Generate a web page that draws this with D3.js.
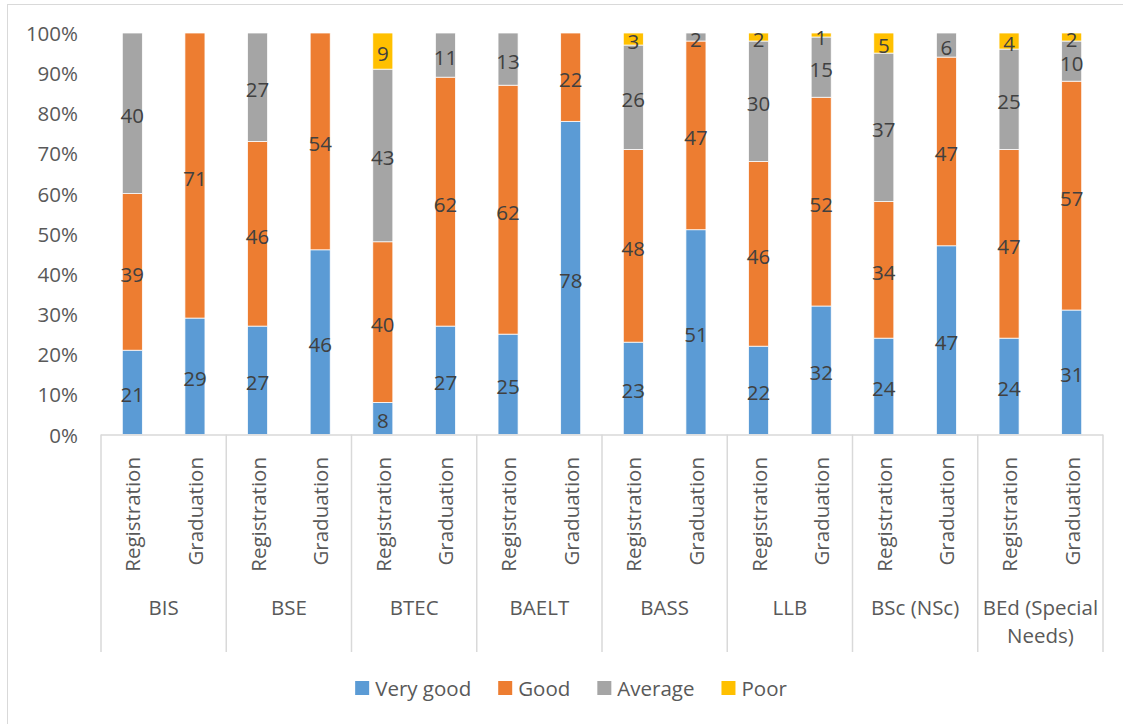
<!DOCTYPE html>
<html>
<head>
<meta charset="utf-8">
<script src="https://cdn.jsdelivr.net/npm/d3@7"></script>
<style>
  html, body { margin: 0; padding: 0; background: #fff; }
  svg { display: block; font-family: "Open Sans", "Noto Sans", sans-serif; }
</style>
</head>
<body>
<svg id="chart" width="1123" height="724"></svg>
<script>
// Programmes and the two survey points per programme
const programmes = ["BIS", "BSE", "BTEC", "BAELT", "BASS", "LLB", "BSc (NSc)", "BEd (Special Needs)"];
const stages = ["Registration", "Graduation"];

// Rating shares (%), ordered programme by programme: Registration then Graduation
const veryGood = [21, 29, 27, 46, 8, 27, 25, 78, 23, 51, 22, 32, 24, 47, 24, 31];
const good     = [39, 71, 46, 54, 40, 62, 62, 22, 48, 47, 46, 52, 34, 47, 47, 57];
const average  = [40, 0, 27, 0, 43, 11, 13, 0, 26, 2, 30, 15, 37, 6, 25, 10];
const poor     = [0, 0, 0, 0, 9, 0, 0, 0, 3, 0, 2, 1, 5, 0, 4, 2];

const seriesNames = ["Very good", "Good", "Average", "Poor"];
const seriesColors = ["#5B9BD5", "#ED7D31", "#A5A5A5", "#FFC000"];
const yTicks = [0, 0.1, 0.2, 0.3, 0.4, 0.5, 0.6, 0.7, 0.8, 0.9, 1.0];

// Build one row per bar
const rows = [];
programmes.forEach((p, i) => {
  stages.forEach((s, j) => {
    const k = i * 2 + j;
    rows.push({ programme: p, stage: s, "Very good": veryGood[k], "Good": good[k], "Average": average[k], "Poor": poor[k] });
  });
});
rows.forEach(r => { r.total = seriesNames.reduce((a, n) => a + r[n], 0); });

const svg = d3.select("#chart");
const plotLeft = 101, plotRight = 1103, plotTop = 33, plotBottom = 434.5;
const textCol = "#595959", labelCol = "#404040", lineCol = "#D9D9D9";
const fs = 20.5;

// Chart frame
svg.append("rect").attr("x", 7.5).attr("y", 4.5).attr("width", 1140).attr("height", 740)
  .attr("fill", "none").attr("stroke", lineCol).attr("stroke-width", 1);

const x0 = d3.scaleBand().domain(programmes).range([plotLeft, plotRight]).padding(0);
const x1 = d3.scaleBand().domain(stages).range([0, x0.bandwidth()]).paddingInner(0.68).paddingOuter(0.34);
const y = d3.scaleLinear().domain([0, 1]).range([plotBottom, plotTop]);

// Y axis labels
svg.append("g").selectAll("text").data(yTicks).join("text")
  .attr("x", 78).attr("y", d => y(d))
  .attr("text-anchor", "end").attr("dominant-baseline", "central")
  .attr("font-size", fs).attr("fill", textCol)
  .text(d => d3.format(".0%")(d));

// Stacked bars (share of each row's total)
const stack = d3.stack().keys(seriesNames).value((d, key) => d[key] / d.total);
const layers = stack(rows);

const barG = svg.append("g");
layers.forEach((layer, li) => {
  const g = barG.append("g").attr("fill", seriesColors[li]);
  g.selectAll("rect").data(layer.filter(d => d.data[seriesNames[li]] > 0)).join("rect")
    .attr("x", d => x0(d.data.programme) + x1(d.data.stage))
    .attr("width", x1.bandwidth())
    .attr("y", d => y(d[1]))
    .attr("height", d => y(d[0]) - y(d[1]))
    .attr("stroke", "#fff").attr("stroke-width", 0.75);
});

// Value labels
layers.forEach((layer, li) => {
  svg.append("g").selectAll("text").data(layer.filter(d => d.data[seriesNames[li]] > 0)).join("text")
    .attr("x", d => x0(d.data.programme) + x1(d.data.stage) + x1.bandwidth() / 2)
    .attr("y", d => y((d[0] + d[1]) / 2) + 2)
    .attr("text-anchor", "middle").attr("dominant-baseline", "central")
    .attr("font-size", fs).attr("fill", labelCol)
    .text(d => d.data[seriesNames[li]]);
});

// X axis line and group dividers
const axisG = svg.append("g").attr("stroke", lineCol).attr("stroke-width", 1.5);
axisG.append("line").attr("x1", plotLeft).attr("x2", plotRight).attr("y1", plotBottom + 0.5).attr("y2", plotBottom + 0.5);
const edges = programmes.map(p => x0(p)).concat([plotRight]);
axisG.selectAll("line.div").data(edges).join("line").attr("class", "div")
  .attr("x1", d => d).attr("x2", d => d).attr("y1", plotBottom).attr("y2", 652);

// Stage labels (rotated)
const stageG = svg.append("g");
rows.forEach(r => {
  const cx = x0(r.programme) + x1(r.stage) + x1.bandwidth() / 2;
  stageG.append("text")
    .attr("transform", `translate(${cx},457) rotate(-90)`)
    .attr("text-anchor", "end").attr("dominant-baseline", "central")
    .attr("font-size", fs).attr("fill", textCol)
    .text(r.stage);
});

// Programme labels, wrapped to the group width
const progG = svg.append("g");
programmes.forEach(p => {
  const cx = x0(p) + x0.bandwidth() / 2;
  const t = progG.append("text").attr("x", cx).attr("y", 607)
    .attr("text-anchor", "middle").attr("dominant-baseline", "central")
    .attr("font-size", fs).attr("fill", textCol);
  const words = p.split(" ");
  let line = [];
  let tspan = t.append("tspan").attr("x", cx).attr("dy", 0);
  words.forEach(w => {
    line.push(w);
    tspan.text(line.join(" "));
    if (tspan.node().getComputedTextLength() > x0.bandwidth() - 4 && line.length > 1) {
      line.pop();
      tspan.text(line.join(" "));
      line = [w];
      tspan = t.append("tspan").attr("x", cx).attr("dy", 28).text(w);
    }
  });
});

// Legend
const legendG = svg.append("g");
const items = seriesNames.map((n, i) => {
  const g = legendG.append("g");
  g.append("rect").attr("width", 14).attr("height", 14).attr("y", 681).attr("fill", seriesColors[i]);
  const t = g.append("text").attr("x", 20).attr("y", 688).attr("dominant-baseline", "central")
    .attr("font-size", fs).attr("fill", textCol).text(n);
  return { g, w: 20 + t.node().getComputedTextLength() };
});
const gap = 27;
const totalW = d3.sum(items, d => d.w) + gap * (items.length - 1);
let lx = 571 - totalW / 2;
items.forEach(it => { it.g.attr("transform", `translate(${lx},0)`); lx += it.w + gap; });
</script>
</body>
</html>
